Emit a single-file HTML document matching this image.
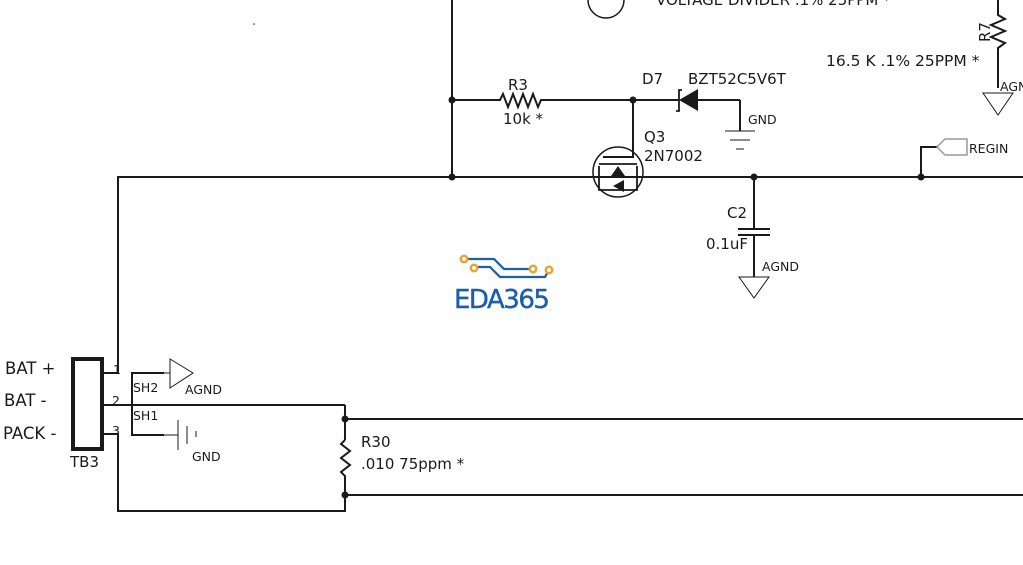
<!DOCTYPE html>
<html><head><style>
html,body{margin:0;padding:0;background:#fff;}
svg{display:block;font-family:"DejaVu Sans","Liberation Sans",sans-serif;}
</style></head><body>
<svg width="1023" height="565" viewBox="0 0 1023 565" xmlns="http://www.w3.org/2000/svg">
<g stroke="#1a1a1a" stroke-width="2" fill="none">
<line x1="452" y1="0" x2="452" y2="177"/>
<polyline points="452,100 500,100 503,94 508,107 513,94 518,107 523,94 528,107 533,94 538,107 541,100 633,100"/>
<line x1="633" y1="100" x2="678" y2="100"/>
<polyline points="682,90 679,90 679,111 676,111" stroke-width="1.8"/>
<line x1="698" y1="100" x2="740" y2="100"/>
<line x1="740" y1="100" x2="740" y2="131"/>
<line x1="725" y1="131" x2="755" y2="131" stroke-width="1"/>
<line x1="730" y1="140" x2="750" y2="140" stroke-width="1"/>
<line x1="736" y1="149" x2="744" y2="149" stroke-width="1"/>
<polyline points="633,100 633,157 603,157"/>
<circle cx="618" cy="172" r="25" stroke-width="1.5"/>
<polyline points="599,166 599,190 637,190 637,166" stroke-width="1.8"/>
<line x1="599" y1="164" x2="637" y2="164" stroke-width="1.8"/>
<polyline points="118,373 118,177 1023,177"/>
<line x1="102" y1="373" x2="118" y2="373"/>
<polyline points="921,177 921,147 937,147"/>
<polygon points="937,147 945,139 967,139 967,155 945,155" stroke="#999" stroke-width="1.5"/>
<line x1="754" y1="177" x2="754" y2="229"/>
<line x1="738" y1="229" x2="770" y2="229"/>
<line x1="738" y1="235" x2="770" y2="235"/>
<line x1="754" y1="235" x2="754" y2="277"/>
<polygon points="739,277 769,277 754,298" stroke-width="1"/>
<polyline points="998,0 998,15 1005,19 991,25 1005,31 991,37 1005,43 998,48 998,88"/>
<polygon points="983,93 1013,93 998,115" stroke-width="1"/>
<rect x="73" y="359" width="29" height="90" stroke-width="4"/>
<line x1="102" y1="405" x2="345" y2="405"/>
<line x1="345" y1="405" x2="345" y2="440"/>
<polyline points="345,440 341,444 350,451 341,458 350,465 341,472 345,476 345,495"/>
<line x1="345" y1="419" x2="1023" y2="419"/>
<line x1="345" y1="495" x2="1023" y2="495"/>
<polyline points="102,434 118,434 118,511 345,511 345,495"/>
<polyline points="164,373 132,373 132,435 164,435"/>
<line x1="164" y1="373" x2="170" y2="373" stroke-width="1"/>
<polygon points="170,359 193,373 170,388" stroke-width="1"/>
<line x1="164" y1="435" x2="178" y2="435" stroke-width="1"/>
<line x1="178" y1="420" x2="178" y2="450" stroke-width="1"/>
<line x1="187" y1="426" x2="187" y2="444" stroke-width="1"/>
<line x1="196" y1="431" x2="196" y2="437" stroke-width="1"/>
<path d="M588,0 A18 18 0 0 0 624,0" stroke-width="1.5"/>
</g>
<g fill="#1a1a1a">
<polygon points="679,100 698,89 698,111"/>
<polygon points="618,166 611,176 625,176"/>
<polygon points="613,186 624,180 624,192"/>
<circle cx="452" cy="100" r="3.5"/><circle cx="633" cy="100" r="3.5"/>
<circle cx="452" cy="177" r="3.5"/><circle cx="754" cy="177" r="3.5"/><circle cx="921" cy="177" r="3.5"/>
<circle cx="345" cy="419" r="3.5"/><circle cx="345" cy="495" r="3.5"/>
<circle cx="254" cy="24" r="0.8"/>
</g>
<g fill="#1a1a1a" font-size="15">
<text x="656" y="5">VOLTAGE DIVIDER .1% 25PPM *</text>
<text x="826" y="66" font-size="15.5">16.5 K .1% 25PPM *</text>
<text x="990" y="42" transform="rotate(-90 990 42)">R7</text>
<text x="508" y="90">R3</text>
<text x="503" y="124">10k *</text>
<text x="642" y="84">D7</text>
<text x="688" y="84">BZT52C5V6T</text>
<text x="644" y="142">Q3</text>
<text x="644" y="161">2N7002</text>
<text x="727" y="218">C2</text>
<text x="706" y="249">0.1uF</text>
<text x="361" y="447">R30</text>
<text x="361" y="469">.010 75ppm *</text>
<text x="5" y="374" font-size="16.5">BAT +</text>
<text x="4" y="406" font-size="16.5">BAT -</text>
<text x="3" y="439" font-size="16.5">PACK -</text>
<text x="70" y="467">TB3</text>
</g>
<g fill="#1a1a1a" font-size="12.5">
<text x="748" y="124">GND</text>
<text x="762" y="271">AGND</text>
<text x="1000" y="91">AGND</text>
<text x="969" y="153">REGIN</text>
<text x="185" y="394">AGND</text>
<text x="192" y="461">GND</text>
<text x="133" y="392">SH2</text>
<text x="133" y="420">SH1</text>
<text x="113" y="374">1</text>
<text x="112" y="405">2</text>
<text x="112" y="435">3</text>
</g>
<g fill="none" stroke="#1a5fa8" stroke-width="2.2">
<polyline points="468,259 494,259 504,269 533,269"/>
<polyline points="477,267 490,267 500,277 545,277 549,270"/>
</g>
<g fill="#fff" stroke="#f0a030" stroke-width="2.5">
<circle cx="464" cy="259" r="3.2"/><circle cx="474" cy="268" r="3.2"/>
<circle cx="533" cy="269" r="3.2"/><circle cx="549" cy="270" r="3.2"/>
</g>
<text x="454" y="308" font-family="DejaVu Sans, sans-serif" font-size="26" fill="#1a5fa8" letter-spacing="-1.5" stroke="#1a5fa8" stroke-width="0.4">EDA365</text>
</svg>
</body></html>
